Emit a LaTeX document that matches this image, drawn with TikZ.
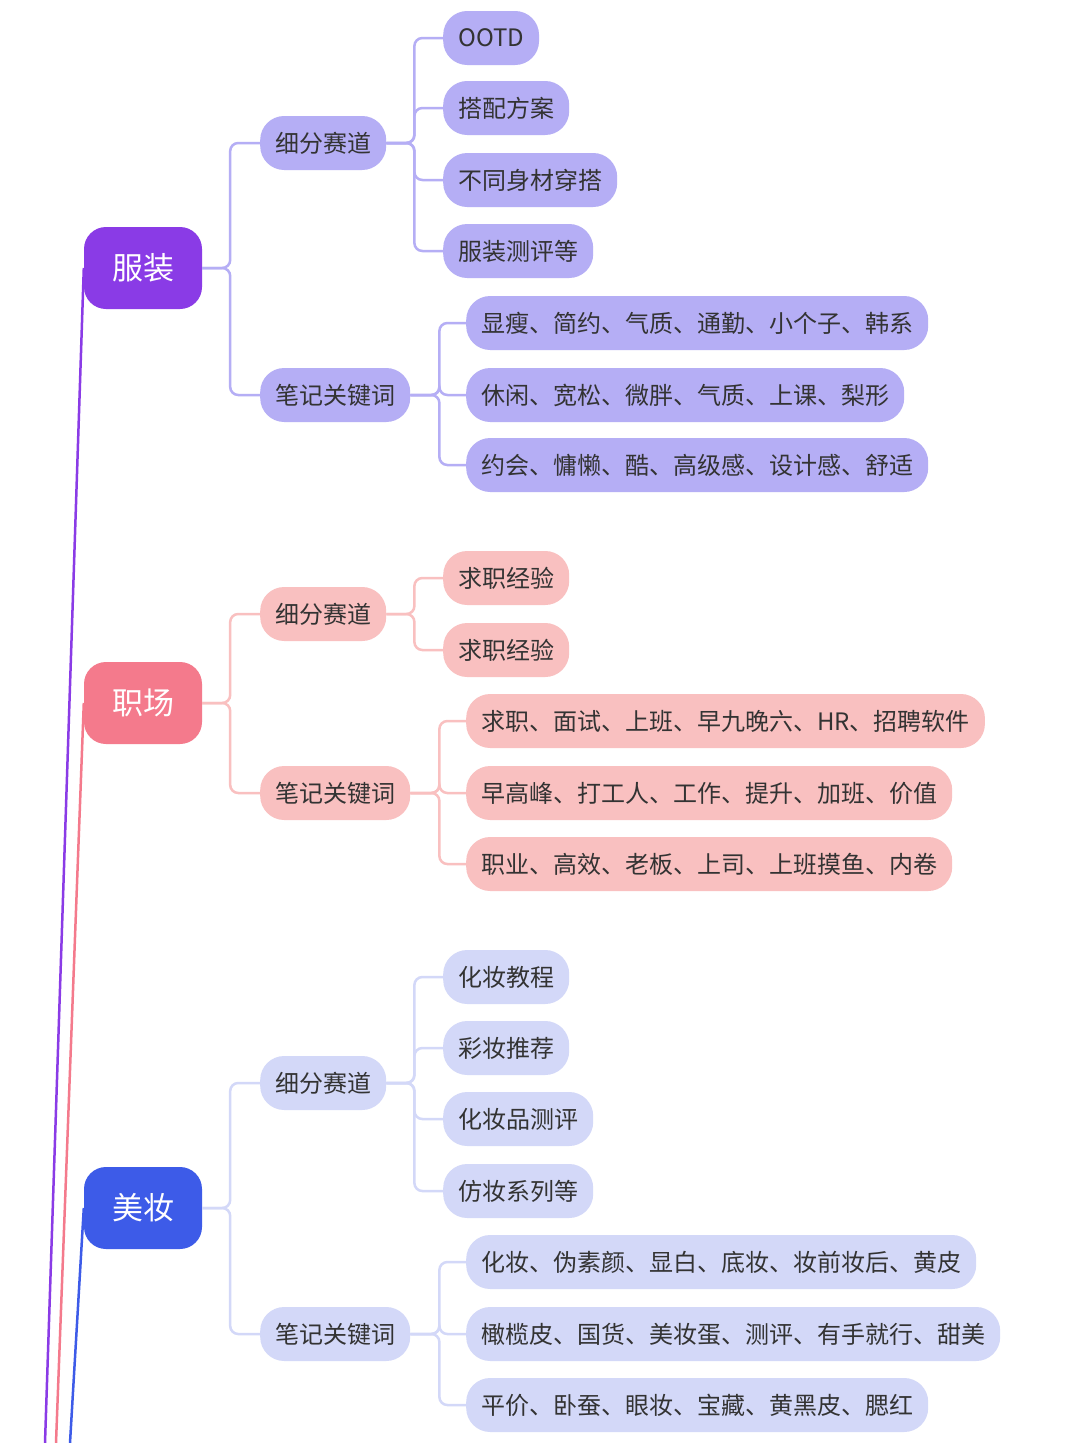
\documentclass[tikz,border=0pt]{standalone}
\usepackage{fontspec}
\setmainfont{Noto Sans CJK SC}
\usetikzlibrary{positioning}
\definecolor{fzMain}{HTML}{8A3BE6}
\definecolor{fzSub}{HTML}{B5AEF5}
\definecolor{zcMain}{HTML}{F47A8C}
\definecolor{zcSub}{HTML}{F9C0C0}
\definecolor{mzMain}{HTML}{3D5BE8}
\definecolor{mzSub}{HTML}{D3D8F8}
\definecolor{txt}{HTML}{333333}
\tikzset{
    topic/.style={rounded corners=22pt,minimum width=118pt,minimum height=82pt,font=\fontsize{31}{31}\selectfont,text=white},
    sub/.style={rounded corners=24pt,minimum height=54pt,inner xsep=15pt,font=\fontsize{24}{24}\selectfont,text=txt,anchor=west},
    link/.style={line width=2.5pt,rounded corners=8pt},
}
\begin{document}
\begin{tikzpicture}[x=1pt,y=-1pt]
    \useasboundingbox[fill=white] (0,0) rectangle (1080,1443);
    % main topics
    \node[topic,fill=fzMain] (fz) at (143,268) {服装};
    \node[topic,fill=zcMain] (zc) at (143,703) {职场};
    \node[topic,fill=mzMain] (mz) at (143,1208) {美妆};
    \coordinate (fzEnd) at (45,1443);
    \coordinate (zcEnd) at (56,1443);
    \coordinate (mzEnd) at (70,1443);
    \draw[line width=2.5pt,fzMain] (fz.west) -- (fzEnd);
    \draw[line width=2.5pt,zcMain] (zc.west) -- (zcEnd);
    \draw[line width=2.5pt,mzMain] (mz.west) -- (mzEnd);

    % 服装
    \node[sub,fill=fzSub] (fzA) at (260,143) {细分赛道};
    \node[sub,fill=fzSub] (fzB) at (260,395) {笔记关键词};
    \node[sub,fill=fzSub] (fzA1) at (443,38) {OOTD};
    \node[sub,fill=fzSub] (fzA2) at (443,108) {搭配方案};
    \node[sub,fill=fzSub] (fzA3) at (443,180) {不同身材穿搭};
    \node[sub,fill=fzSub] (fzA4) at (443,251) {服装测评等};
    \node[sub,fill=fzSub] (fzB1) at (466,323) {显瘦、简约、气质、通勤、小个子、韩系};
    \node[sub,fill=fzSub] (fzB2) at (466,395) {休闲、宽松、微胖、气质、上课、梨形};
    \node[sub,fill=fzSub] (fzB3) at (466,465) {约会、慵懒、酷、高级感、设计感、舒适};
    \foreach \c in {fzA,fzB}
        \draw[link,fzSub] (fz.east) -- ++(28,0) |- (\c.west);
    \foreach \c in {fzA1,fzA2,fzA3,fzA4}
        \draw[link,fzSub] (fzA.east) -- ++(28,0) |- (\c.west);
    \foreach \c in {fzB1,fzB2,fzB3}
        \draw[link,fzSub] (fzB.east) -- ++(29,0) |- (\c.west);

    % 职场
    \node[sub,fill=zcSub] (zcA) at (260,614) {细分赛道};
    \node[sub,fill=zcSub] (zcB) at (260,793) {笔记关键词};
    \node[sub,fill=zcSub] (zcA1) at (443,578) {求职经验};
    \node[sub,fill=zcSub] (zcA2) at (443,650) {求职经验};
    \node[sub,fill=zcSub] (zcB1) at (466,721) {求职、面试、上班、早九晚六、HR、招聘软件};
    \node[sub,fill=zcSub] (zcB2) at (466,793) {早高峰、打工人、工作、提升、加班、价值};
    \node[sub,fill=zcSub] (zcB3) at (466,864) {职业、高效、老板、上司、上班摸鱼、内卷};
    \foreach \c in {zcA,zcB}
        \draw[link,zcSub] (zc.east) -- ++(28,0) |- (\c.west);
    \foreach \c in {zcA1,zcA2}
        \draw[link,zcSub] (zcA.east) -- ++(28,0) |- (\c.west);
    \foreach \c in {zcB1,zcB2,zcB3}
        \draw[link,zcSub] (zcB.east) -- ++(29,0) |- (\c.west);

    % 美妆
    \node[sub,fill=mzSub] (mzA) at (260,1083) {细分赛道};
    \node[sub,fill=mzSub] (mzB) at (260,1334) {笔记关键词};
    \node[sub,fill=mzSub] (mzA1) at (443,977) {化妆教程};
    \node[sub,fill=mzSub] (mzA2) at (443,1048) {彩妆推荐};
    \node[sub,fill=mzSub] (mzA3) at (443,1119) {化妆品测评};
    \node[sub,fill=mzSub] (mzA4) at (443,1191) {仿妆系列等};
    \node[sub,fill=mzSub] (mzB1) at (466,1262) {化妆、伪素颜、显白、底妆、妆前妆后、黄皮};
    \node[sub,fill=mzSub] (mzB2) at (466,1334) {橄榄皮、国货、美妆蛋、测评、有手就行、甜美};
    \node[sub,fill=mzSub] (mzB3) at (466,1405) {平价、卧蚕、眼妆、宝藏、黄黑皮、腮红};
    \foreach \c in {mzA,mzB}
        \draw[link,mzSub] (mz.east) -- ++(28,0) |- (\c.west);
    \foreach \c in {mzA1,mzA2,mzA3,mzA4}
        \draw[link,mzSub] (mzA.east) -- ++(28,0) |- (\c.west);
    \foreach \c in {mzB1,mzB2,mzB3}
        \draw[link,mzSub] (mzB.east) -- ++(29,0) |- (\c.west);
\end{tikzpicture}
\end{document}
